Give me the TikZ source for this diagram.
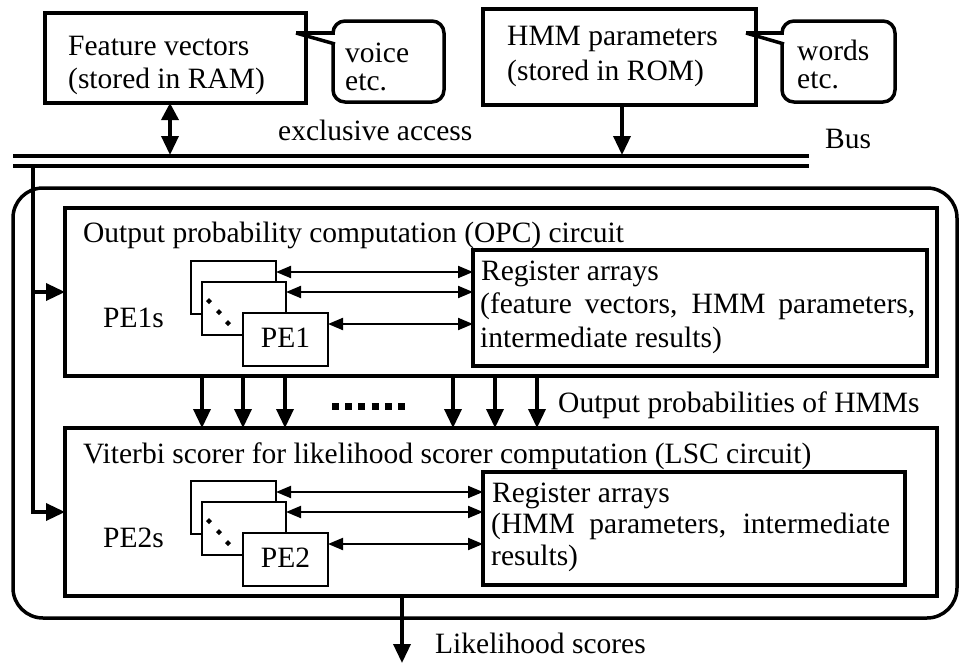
\documentclass[tikz,border=0pt]{standalone}
\usepackage{fontspec}
\setmainfont{Liberation Serif}
\usetikzlibrary{arrows.meta}
\begin{document}
\begin{tikzpicture}[x=1pt,y=-1pt, font=\fontsize{29.5}{33}\selectfont,
 box/.style={draw, line width=3.5pt, inner sep=0pt, outer sep=0pt},
 pebox/.style={draw, fill=white, line width=2pt, inner sep=0pt, outer sep=0pt, minimum width=85pt, minimum height=53pt},
 txt/.style={inner sep=0pt, anchor=base west},
 bigarrow/.style={line width=3.5pt, -{Triangle[length=19pt,width=17pt]}},
 dblarrow/.style={line width=3.5pt, {Triangle[length=17pt,width=17pt]}-{Triangle[length=19pt,width=17pt]}},
 thinarrow/.style={line width=2pt, {Triangle[length=15pt,width=12pt]}-{Triangle[length=15pt,width=12pt]}},
 bubble/.style={draw, line width=3.5pt, rounded corners=12pt},
 tail/.style={line width=3.5pt},
 dotmark/.style={fill=black}
 ]
\useasboundingbox (0,0) rectangle (959,664);

% top boxes
\node[box, minimum width=261pt, minimum height=90pt] (fv) at (175.5,58) {};
\node[txt] (fvt1) at (68,55) {Feature vectors};
\node[txt] (fvt2) at (68,88) {(stored in RAM)};

\node[box, minimum width=273pt, minimum height=96pt] (hmm) at (619.5,57) {};
\node[txt] (hmt1) at (507,45) {HMM parameters};
\node[txt] (hmt2) at (507,80) {(stored in ROM)};

% callouts
\draw[bubble] (333,21) rectangle (444,102);
\coordinate (vtip) at (296,33);
\fill[white] (vtip) -- (337,33) -- (337,45) -- cycle;
\draw[tail] (vtip) -- (335,33);
\draw[tail] (vtip) -- (335,44);
\node[txt] (voice) at (345,62) {voice};
\node[txt] (voiceetc) at (345,90) {etc.};

\draw[bubble] (782,21) rectangle (895,102);
\coordinate (wtip) at (746,33);
\fill[white] (wtip) -- (786,33) -- (786,45) -- cycle;
\draw[tail] (wtip) -- (784,33);
\draw[tail] (wtip) -- (784,44);
\node[txt] (words) at (797,60) {words};
\node[txt] (wordsetc) at (797,88) {etc.};

% bus
\coordinate (busL1) at (13,156);
\coordinate (busR1) at (809,156);
\coordinate (busL2) at (13,166);
\coordinate (busR2) at (809,166);
\draw[line width=3.5pt] (busL1) -- (busR1);
\draw[line width=3.5pt] (busL2) -- (busR2);
\node[txt] (excl) at (278,140) {exclusive access};
\node[txt] (buslbl) at (825,148) {Bus};

\coordinate (b1) at (170,155);
\coordinate (b2) at (622,155);
\draw[dblarrow] (b1 |- fv.south) -- (b1);
\draw[bigarrow] (b2 |- hmm.south) -- (b2);

% outer chip
\node[box, rounded corners=30pt, minimum width=944pt, minimum height=430pt] (chip) at (485,403) {};

% OPC
\node[box, minimum width=872pt, minimum height=168pt] (opc) at (501,292) {};
\node[txt] (opct) at (83,242) {Output probability computation (OPC) circuit};
\node[box, minimum width=454pt, minimum height=116pt] (reg1) at (700,308) {};
\node[txt] (reg1a) at (481,280) {Register arrays};
\node[txt] (reg1b) at (480,313) {\makebox[435pt][s]{(feature vectors, HMM parameters,}};
\node[txt] (reg1c) at (480,347) {intermediate results)};

\node[pebox] (pa) at (233.5,287.5) {};
\node[pebox, minimum width=84pt] (pb) at (244,308.5) {};
\node[pebox] (pc) at (285.5,339.5) {};
\node[inner sep=0pt, anchor=base] (pe1) at (285.5,347) {PE1};
\node[txt] (pe1s) at (103,327) {PE1s};
\foreach \x/\y in {209/301,219/312,228/323}
  \fill[dotmark] ({\x-3},\y) -- (\x,{\y-3}) -- ({\x+3},\y) -- (\x,{\y+3}) -- cycle;

\coordinate (ya1) at (0,272);
\coordinate (ya2) at (0,292);
\coordinate (ya3) at (0,324);
\draw[thinarrow] (ya1 -| pa.east) -- (ya1 -| reg1.west);
\draw[thinarrow] (ya2 -| pb.east) -- (ya2 -| reg1.west);
\draw[thinarrow] (ya3 -| pc.east) -- (ya3 -| reg1.west);

% LSC
\node[box, minimum width=872pt, minimum height=168pt] (lsc) at (501,512) {};
\node[txt] (lsct) at (83,463) {Viterbi scorer for likelihood scorer computation (LSC circuit)};
\node[box, minimum width=422pt, minimum height=113pt] (reg2) at (694,528.5) {};
\node[txt] (reg2a) at (492,502) {Register arrays};
\node[txt] (reg2b) at (491,533) {\makebox[399pt][s]{(HMM parameters, intermediate}};
\node[txt] (reg2c) at (491,565) {results)};

\node[pebox] (qa) at (233.5,507.5) {};
\node[pebox, minimum width=84pt] (qb) at (244,528.5) {};
\node[pebox] (qc) at (285.5,559.5) {};
\node[inner sep=0pt, anchor=base] (pe2) at (285.5,567) {PE2};
\node[txt] (pe2s) at (103,547) {PE2s};
\foreach \x/\y in {209/521,219/532,228/543}
  \fill[dotmark] ({\x-3},\y) -- (\x,{\y-3}) -- ({\x+3},\y) -- (\x,{\y+3}) -- cycle;

\coordinate (yb1) at (0,492);
\coordinate (yb2) at (0,512);
\coordinate (yb3) at (0,544);
\draw[thinarrow] (yb1 -| qa.east) -- (yb1 -| reg2.west);
\draw[thinarrow] (yb2 -| qb.east) -- (yb2 -| reg2.west);
\draw[thinarrow] (yb3 -| qc.east) -- (yb3 -| reg2.west);

% feed from bus
\coordinate (feed) at (33,166);
\draw[bigarrow] (feed) |- (opc.west);
\draw[bigarrow] (feed) |- (lsc.west);

% output probabilities
\foreach \x [count=\i] in {202,243,285,453,495,537} {
  \coordinate (c\i) at (\x,0);
  \draw[bigarrow] (opc.south -| c\i) -- (lsc.north -| c\i);
}
\coordinate (dl) at (332,406);
\coordinate (dr) at (408,406);
\draw[line width=7pt, dash pattern=on 7pt off 6.2pt] (dl) -- (dr);
\node[txt] (oph) at (558,412) {Output probabilities of HMMs};

% likelihood output
\coordinate (outc) at (402,663);
\draw[bigarrow] (lsc.south -| outc) -- (outc);
\node[txt] (lik) at (435,653) {Likelihood scores};
\end{tikzpicture}
\end{document}
